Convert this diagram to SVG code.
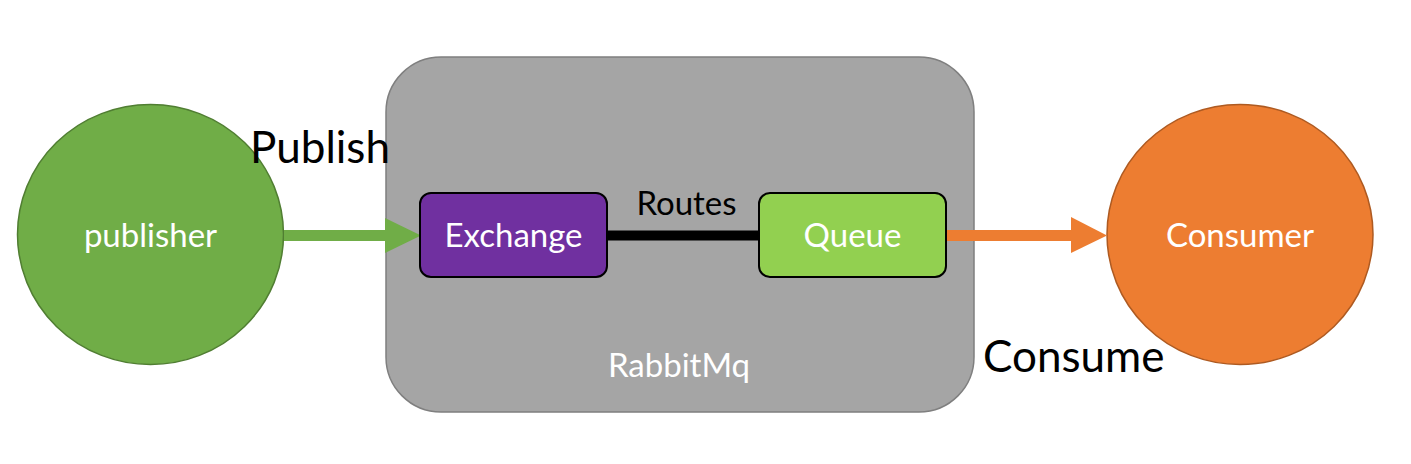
<svg xmlns="http://www.w3.org/2000/svg" width="1411" height="464" viewBox="0 0 1411 464">
<style>
.lbl{font-family:Lato,"Open Sans",sans-serif;}
.w{fill:#ffffff;font-size:33px;text-anchor:middle;}
.big{fill:#000000;font-size:44px;}
.box{stroke:#000000;stroke-width:2;}
</style>
<rect x="0" y="0" width="1411" height="464" fill="#ffffff"/>
<g id="rabbitmq">
<rect x="386" y="57" width="588" height="355" rx="55" ry="55" fill="#a5a5a5" stroke="#7f7f7f" stroke-width="1.5"/>
<text class="lbl w" x="679" y="377" fill="#f2f2f2">RabbitMq</text>
</g>
<g id="publisher">
<ellipse cx="150.5" cy="234.5" rx="133" ry="130" fill="#70ad47" stroke="#507e32" stroke-width="1.5"/>
<text class="lbl w" x="150.5" y="247">publisher</text>
</g>
<g id="consumer">
<ellipse cx="1240" cy="234.5" rx="133" ry="130" fill="#ed7d31" stroke="#ae5a21" stroke-width="1.5"/>
<text class="lbl w" x="1240" y="247">Consumer</text>
</g>
<g id="connectors">
<rect x="284" y="230" width="102" height="11" fill="#70ad47"/>
<polygon points="385,218 421,235.5 385,253" fill="#70ad47"/>
<line x1="607" y1="235.5" x2="759" y2="235.5" stroke="#000000" stroke-width="10"/>
<rect x="946" y="230" width="126" height="11" fill="#ed7d31"/>
<polygon points="1071,217 1107,235.5 1071,253" fill="#ed7d31"/>
<text class="lbl" x="686.5" y="215" font-size="33" fill="#000000" text-anchor="middle">Routes</text>
<text class="lbl big" x="250" y="163">Publish</text>
<text class="lbl big" x="983" y="372">Consume</text>
</g>
<g id="exchange">
<rect class="box" x="420" y="193" width="187" height="84" rx="11" ry="11" fill="#7030a0"/>
<text class="lbl w" x="513.5" y="247">Exchange</text>
</g>
<g id="queue">
<rect class="box" x="759" y="193" width="187" height="84" rx="11" ry="11" fill="#92d050"/>
<text class="lbl w" x="852.5" y="247">Queue</text>
</g>
</svg>
